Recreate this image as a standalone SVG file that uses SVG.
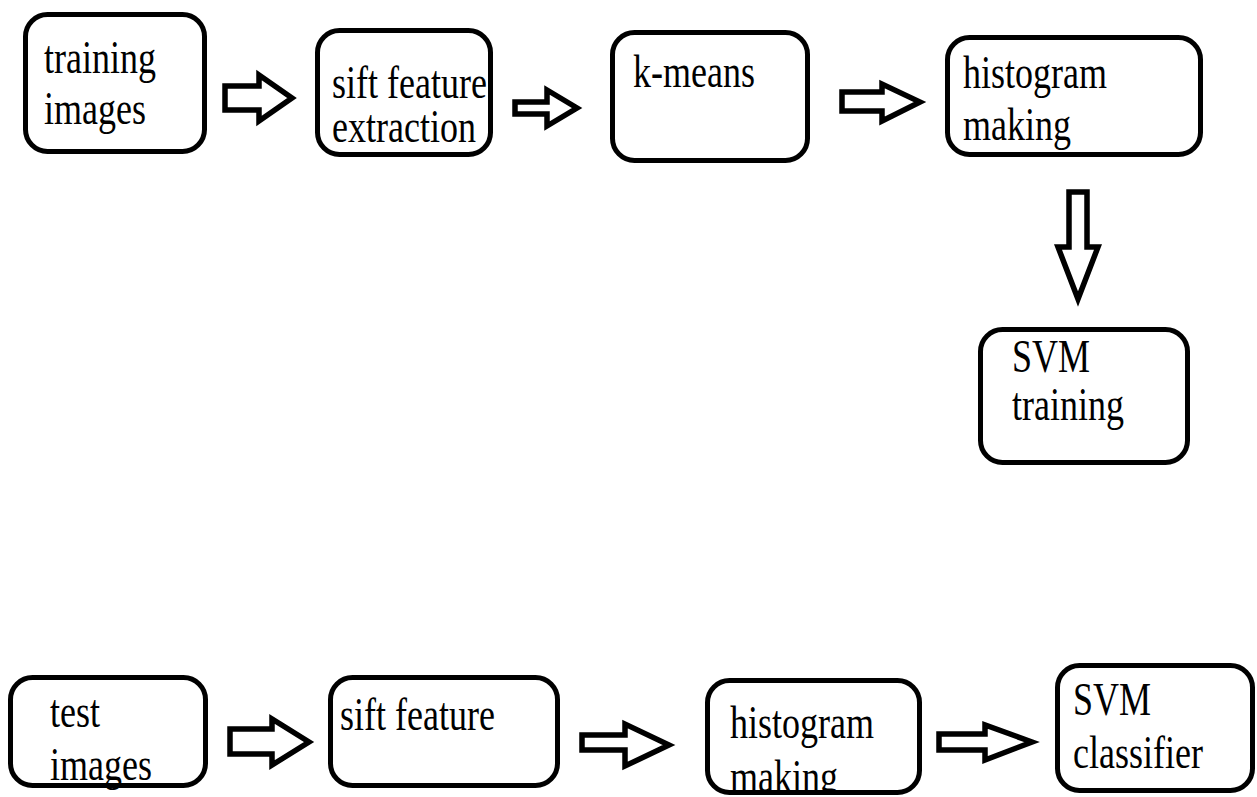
<svg xmlns="http://www.w3.org/2000/svg" width="1257" height="797" viewBox="0 0 1257 797">
<style>
.box{fill:#fff;stroke:#000;stroke-width:5}
.arr{fill:#fff;stroke:#000;stroke-width:5.5;stroke-linejoin:miter}
.t{font-family:'Times New Roman','Liberation Serif',serif;font-size:36px;fill:#000}
</style>
<defs>
<clipPath id="clipH"><rect x="700" y="670" width="230" height="120"/></clipPath>
</defs>
<rect width="1257" height="797" fill="#fff"/>
<g id="connectors">
<path class="arr" d="M225,86 H259 V75 L292,98 L259,121 V110 H225 Z"/>
<path class="arr" d="M515,102 H547 V90 L577,108 L547,126 V114 H515 Z"/>
<path class="arr" d="M842,92 H882 V84 L920,102 L882,121 V111 H842 Z"/>
<path class="arr" d="M1069,192 H1087 V247 H1098 L1078,299 L1058,247 H1069 Z"/>
<path class="arr" d="M230,729 H272 V719 L309,742 L272,765 V754 H230 Z"/>
<path class="arr" d="M582,735 H625 V724 L669,745 L625,766 V750 H582 Z"/>
<path class="arr" d="M939,734 H985 V725 L1032,742 L985,760 V750 H939 Z"/>
</g>
<g id="n1">
<rect class="box" x="25.5" y="14.5" width="179" height="137" rx="22"/>
<text class="t" transform="translate(44,73) scale(1,1.3)"><tspan x="0" y="0">training</tspan><tspan x="0" y="39">images</tspan></text>
</g>
<g id="n2">
<rect class="box" x="317.5" y="30.5" width="173" height="124" rx="22"/>
<text class="t" transform="translate(332,98) scale(1,1.3)"><tspan x="0" y="0">sift feature</tspan><tspan x="0" y="34">extraction</tspan></text>
</g>
<g id="n3">
<rect class="box" x="612.5" y="32.5" width="195" height="128" rx="22"/>
<text class="t" transform="translate(633,87) scale(1,1.3)">k-means</text>
</g>
<g id="n4">
<rect class="box" x="947.5" y="37.5" width="253" height="117" rx="22"/>
<text class="t" transform="translate(963,88) scale(1,1.3)"><tspan x="0" y="0">histogram</tspan><tspan x="0" y="40">making</tspan></text>
</g>
<g id="n5">
<rect class="box" x="980.5" y="329.5" width="207" height="133" rx="22"/>
<text class="t" transform="translate(1012,372) scale(1,1.3)"><tspan x="0" y="0">SVM</tspan><tspan x="0" y="37">training</tspan></text>
</g>
<g id="n6">
<rect class="box" x="10.5" y="677.5" width="195" height="108" rx="22"/>
<text class="t" transform="translate(50,727) scale(1,1.3)"><tspan x="0" y="0">test</tspan><tspan x="0" y="40.5">images</tspan></text>
</g>
<g id="n7">
<rect class="box" x="330.5" y="677.5" width="227" height="108" rx="22"/>
<text class="t" transform="translate(340,730) scale(1,1.3)">sift feature</text>
</g>
<g id="n8">
<rect class="box" x="707.5" y="680.5" width="212" height="112" rx="22"/>
<g clip-path="url(#clipH)">
<text class="t" transform="translate(730,738) scale(1,1.3)"><tspan x="0" y="0">histogram</tspan><tspan x="0" y="41.5">making</tspan></text>
</g>
</g>
<g id="n9">
<rect class="box" x="1057.5" y="665.5" width="195" height="125" rx="22"/>
<text class="t" transform="translate(1073,715) scale(1,1.3)"><tspan x="0" y="0">SVM</tspan><tspan x="0" y="41">classifier</tspan></text>
</g>
</svg>
